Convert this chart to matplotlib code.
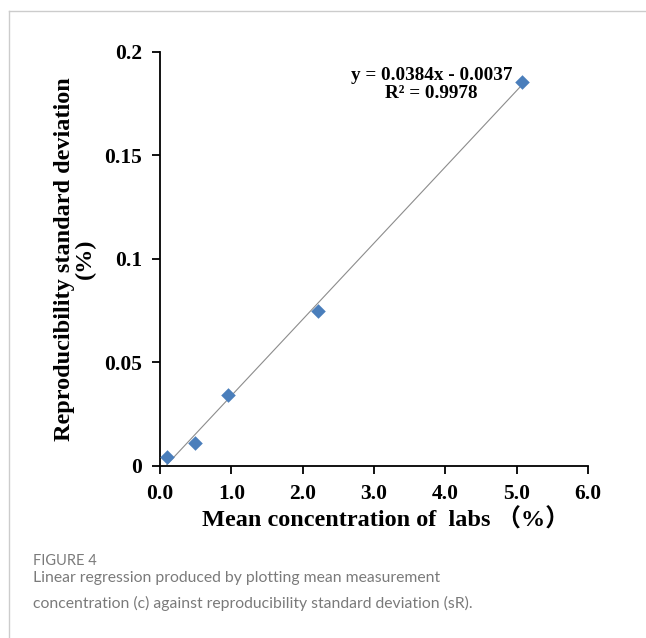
import numpy as np
import matplotlib
matplotlib.use("Agg")
import matplotlib.pyplot as plt
from matplotlib.lines import Line2D

# values
mean_conc = [0.095, 0.49, 0.955, 2.21, 5.08]
repro_sd = [0.0044, 0.0113, 0.0344, 0.075, 0.1855]
eq_text = "y = 0.0384x - 0.0037"
r2_text = "R\u00b2 = 0.9978"
x_ticks = [0, 1, 2, 3, 4, 5, 6]
y_ticks = [0, 0.05, 0.1, 0.15, 0.2]
y_tick_labels = ["0", "0.05", "0.1", "0.15", "0.2"]

serif = ["Liberation Serif", "Noto Sans CJK SC", "DejaVu Sans"]

fig = plt.figure(figsize=(6.46, 6.38), dpi=100)
ax = fig.add_axes([0.2477, 0.2696, 0.910 - 0.2477, 0.919 - 0.2696])

ax.scatter(mean_conc, repro_sd, marker="D", s=55, color="#4A7EBB", zorder=3, linewidths=0)
# excel style linear trendline over the data range
k, b = np.polyfit(mean_conc, repro_sd, 1)
xs = np.array([min(mean_conc), max(mean_conc)])
ax.plot(xs, k * xs + b, color="#8c8c8c", lw=0.8, zorder=2)

ax.set_xlim(0, 6)
ax.set_ylim(0, 0.2)
ax.set_xticks(x_ticks)
ax.set_xticklabels(["%.1f" % t for t in x_ticks])
ax.set_yticks(y_ticks)
ax.set_yticklabels(y_tick_labels)
for lab in ax.get_xticklabels() + ax.get_yticklabels():
    lab.set_fontfamily(serif)
    lab.set_fontweight("bold")
    lab.set_fontsize(15.5)

ax.spines["top"].set_visible(False)
ax.spines["right"].set_visible(False)
ax.spines["left"].set_linewidth(1.3)
ax.spines["bottom"].set_linewidth(1.3)
ax.tick_params(axis="both", direction="out", length=6, width=1.3, pad=7)

ax.set_xlabel("Mean concentration of  labs \uff08%\uff09", family=serif,
              fontweight="bold", fontsize=17.5)
ax.xaxis.set_label_coords(0.527, -0.103)
ax.set_ylabel("Reproducibility standard deviation\n(%)", family=serif,
              fontweight="bold", fontsize=17.5, labelpad=6, linespacing=0.95)

ax.text(0.635, 0.963, eq_text + "\n" + r2_text,
        transform=ax.transAxes, ha="center", va="top", family=serif,
        fontweight="bold", fontsize=13.8, linespacing=1.05)

# page frame and caption
fig.add_artist(Line2D([9 / 646, 1], [1 - 11 / 638, 1 - 11 / 638], transform=fig.transFigure,
                      color="#cccccc", lw=1))
fig.add_artist(Line2D([9 / 646, 9 / 646], [0, 1 - 11 / 638], transform=fig.transFigure,
                      color="#cccccc", lw=1))
fig.text(33 / 646, 1 - 561 / 638, "FIGURE 4", family="Lato", fontsize=10.5,
         color="#7a7a7a", va="center")
fig.text(33 / 646, 1 - 591 / 638,
         "Linear regression produced by plotting mean measurement\n"
         "concentration (c) against reproducibility standard deviation (sR).",
         family="Lato", fontsize=11.3, color="#7a7a7a", va="center", linespacing=1.95)

fig.savefig("out.png", dpi=100)
